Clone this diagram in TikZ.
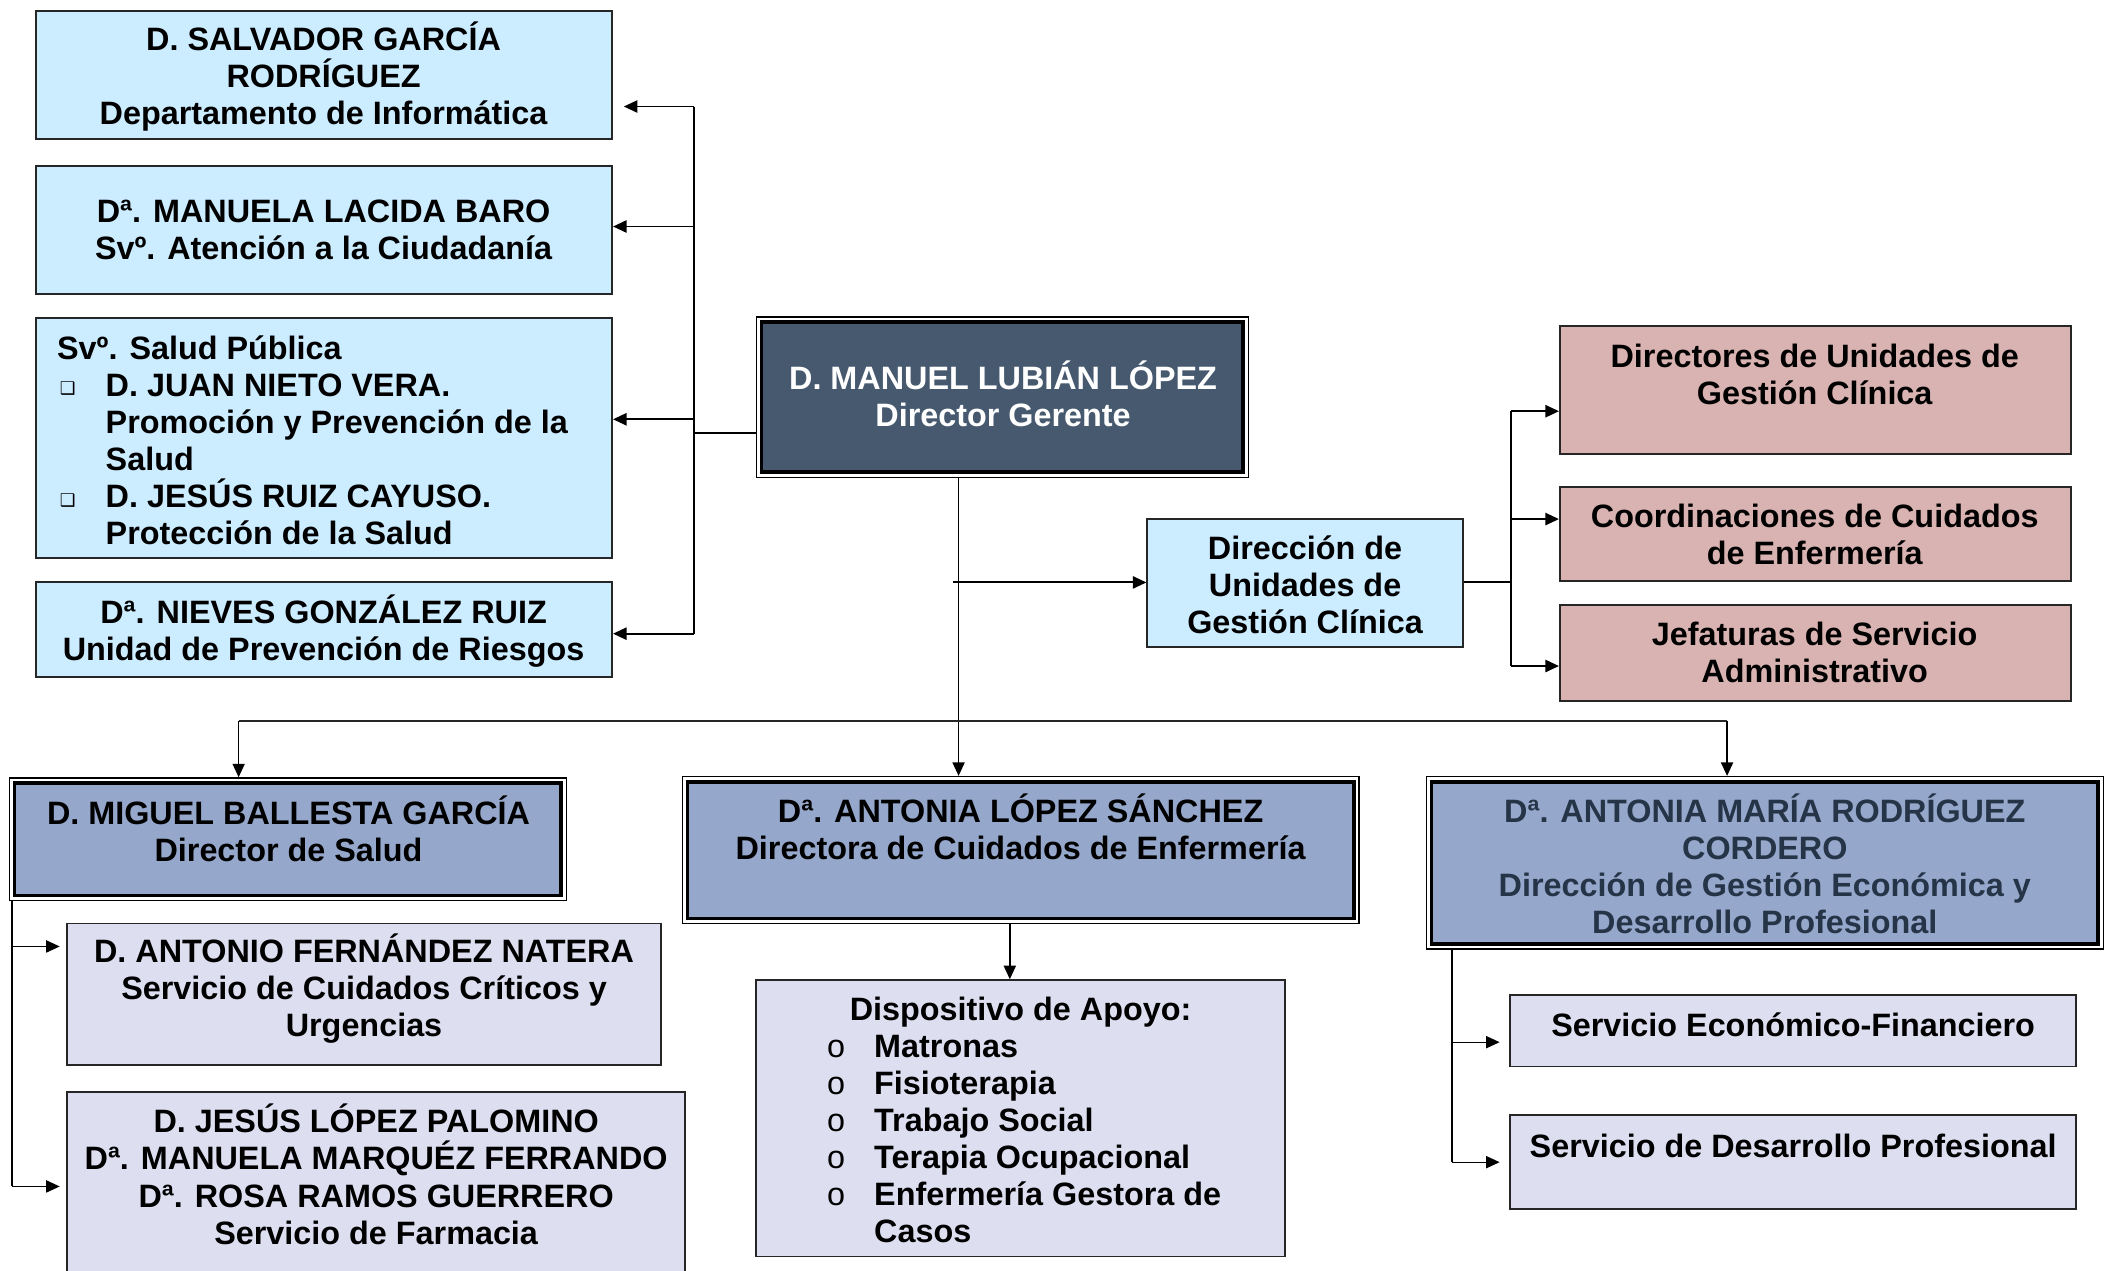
\documentclass[tikz,border=0pt]{standalone}
\usepackage{fontspec}
\setmainfont{Liberation Sans}
\newfontfamily\djv{DejaVu Sans}
\usetikzlibrary{arrows.meta,fit,calc}
\definecolor{lblue}{HTML}{CCECFF}
\definecolor{dslate}{HTML}{46596F}
\definecolor{rose}{HTML}{D9B3B1}
\definecolor{steel}{HTML}{95A7CB}
\definecolor{lav}{HTML}{DDDFF1}
\definecolor{amtext}{HTML}{263447}
\newcommand\sqb{\makebox[18pt][l]{\hspace*{1pt}\raisebox{0.5pt}{\djv\mdseries\fontsize{6.5pt}{6.5pt}\selectfont ❑}}}
\newcommand\indt{\hspace*{18pt}}
\newcommand\cirb{\makebox[17.5pt][l]{\mdseries o}}
\newcommand\indc{\hspace*{17.5pt}}
\newcommand\dblin[2]{\filldraw[fill=#2, draw=black, line width=1.3pt] ([shift={(2.2pt,-2.2pt)}]#1.north west) rectangle ([shift={(-2.2pt,2.2pt)}]#1.south east);}
\begin{document}
\begin{tikzpicture}[x=0.5pt,y=-0.5pt,
  box/.style={draw=black!85, line width=0.7pt, inner sep=0pt},
  obox/.style={draw=black, line width=0.5pt, fill=white, inner sep=0pt},
  txt/.style={font=\bfseries\fontsize{12pt}{13.75pt}\selectfont, align=center, inner sep=0pt},
  ln/.style={line width=0.7pt},
  thinln/.style={line width=0.5pt},
  arr/.style={line width=0.7pt, -{Triangle[length=5pt,width=4.5pt]}},
  thinarr/.style={line width=0.5pt, -{Triangle[length=5pt,width=4.5pt]}}]
\useasboundingbox (0,0) rectangle (1568,942);

% left column
\node[box, fill=lblue, fit={(27,8) (454,103)}] (A) {};
\node[txt] (At) at (240,56.5) {D. SALVADOR GARCÍA\\RODRÍGUEZ\\Departamento de Informática};
\node[box, fill=lblue, fit={(27,123) (454,218)}] (B) {};
\node[txt] (Bt) at (240,170.5) {Dª. MANUELA LACIDA BARO\\Svº. Atención a la Ciudadanía};
\node[box, fill=lblue, fit={(27,236) (454,414)}] (C) {};
\node[txt, align=left, anchor=west] (Ct) at (42,326.5) {Svº. Salud Pública\\
\sqb D. JUAN NIETO VERA.\\
\indt Promoción y Prevención de la\\
\indt Salud\\
\sqb D. JESÚS RUIZ CAYUSO.\\
\indt Protección de la Salud};
\node[box, fill=lblue, fit={(27,432) (454,502)}] (D) {};
\node[txt] (Dt) at (240,468) {Dª. NIEVES GONZÁLEZ RUIZ\\Unidad de Prevención de Riesgos};

% director gerente
\node[obox, fit={(561,235) (926,354)}] (G) {};
\dblin{G}{dslate}
\node[txt, text=white] (Gt) at (744,292) {D. MANUEL LUBIÁN LÓPEZ\\Director Gerente};

% direccion UGC
\node[box, fill=lblue, fit={(851,385) (1085,480)}] (U) {};
\node[txt] (Ut) at (968,433.5) {Dirección de\\Unidades de\\Gestión Clínica};

% pink boxes
\node[box, fill=rose, fit={(1157,242) (1536,337)}] (P1) {};
\node[txt] (P1t) at (1346,277.5) {Directores de Unidades de\\Gestión Clínica};
\node[box, fill=rose, fit={(1157,361) (1536,431)}] (P2) {};
\node[txt] (P2t) at (1346,396.5) {Coordinaciones de Cuidados\\de Enfermería};
\node[box, fill=rose, fit={(1157,449) (1536,520)}] (P3) {};
\node[txt] (P3t) at (1346,484) {Jefaturas de Servicio\\Administrativo};

% second level directors
\node[obox, fit={(7,577) (420,668)}] (M) {};
\dblin{M}{steel}
\node[txt] (Mt) at (214,615) {D. MIGUEL BALLESTA GARCÍA\\Director de Salud};
\node[obox, fit={(506,576) (1008,685)}] (L) {};
\dblin{L}{steel}
\node[txt] (Lt) at (757,613) {Dª. ANTONIA LÓPEZ SÁNCHEZ\\Directora de Cuidados de Enfermería};
\node[obox, fit={(1058,576) (1560,704)}] (R) {};
\dblin{R}{steel}
\node[txt, text=amtext] (Rt) at (1309,640.5) {Dª. ANTONIA MARÍA RODRÍGUEZ\\CORDERO\\Dirección de Gestión Económica y\\Desarrollo Profesional};

% third level
\node[box, fill=lav, fit={(50,685) (490,790)}] (F) {};
\node[txt] (Ft) at (270,733.5) {D. ANTONIO FERNÁNDEZ NATERA\\Servicio de Cuidados Críticos y\\Urgencias};
\node[box, fill=lav, fit={(50,810) (508,952)}] (J) {};
\node[txt] (Jt) at (279,871) {D. JESÚS LÓPEZ PALOMINO\\Dª. MANUELA MARQUÉZ FERRANDO\\Dª. ROSA RAMOS GUERRERO\\Servicio de Farmacia};
\node[box, fill=lav, fit={(561,727) (953,932)}] (S) {};
\node[txt] (St) at (757,750.5) {Dispositivo de Apoyo:};
\node[txt, align=left, anchor=west] (Sl) at (613,845) {\cirb Matronas\\
\cirb Fisioterapia\\
\cirb Trabajo Social\\
\cirb Terapia Ocupacional\\
\cirb Enfermería Gestora de\\
\indc Casos};
\node[box, fill=lav, fit={(1120,738) (1540,791)}] (E) {};
\node[txt] (Et) at (1330,760) {Servicio Económico-Financiero};
\node[box, fill=lav, fit={(1120,827) (1540,897)}] (W) {};
\node[txt] (Wt) at (1330,850) {Servicio de Desarrollo Profesional};

% connectors: left bus
\coordinate (bA) at (515,79);
\coordinate (bB) at (515,168);
\coordinate (bC) at (515,311);
\coordinate (bG) at (515,321);
\coordinate (bD) at (515,470);
\draw[ln] (bA) -- (bD);
\draw[arr, shorten >=4pt] (bA) -- (A.east |- bA);
\draw[arr] (bB) -- (B.east |- bB);
\draw[arr] (bC) -- (C.east |- bC);
\draw[arr] (bD) -- (D.east |- bD);
\draw[ln] (G.west |- bG) -- (bG);

% director down
\coordinate (gv) at (711,535);
\coordinate (gh) at (707,432);
\draw[thinln] (G.south -| gv) -- (gv);
\draw[thinarr] (gv) -- (L.north -| gv);
\draw[arr] (gh) -- (U.west |- gh);

% right bus
\coordinate (rb) at (1121,432);
\coordinate (r1) at (1121,305);
\coordinate (r2) at (1121,385);
\coordinate (r3) at (1121,494);
\draw[ln] (U.east |- rb) -- (rb);
\draw[ln] (r1) -- (r3);
\draw[arr] (r1) -- (P1.west |- r1);
\draw[arr] (r2) -- (P2.west |- r2);
\draw[arr] (r3) -- (P3.west |- r3);

% horizontal distribution line
\coordinate (hl) at (177,535);
\coordinate (hr) at (1281,535);
\draw[ln, draw=black!85] (hl) -- (hr);
\draw[thinarr] (hl) -- (M.north -| hl);
\draw[thinarr] (hr) -- (R.north -| hr);

% Miguel bus
\coordinate (m0) at (9,668);
\coordinate (m1) at (9,702);
\coordinate (m2) at (9,880);
\draw[thinln] (M.south -| m0) -- (m2);
\draw[thinarr, shorten >=2.5pt] (m1) -- (F.west |- m1);
\draw[thinarr, shorten >=2.5pt] (m2) -- (J.west |- m2);

% Antonia Lopez to dispositivo
\coordinate (lv) at (749,700);
\draw[thinarr] (L.south -| lv) -- (S.north -| lv);

% Antonia Maria bus
\coordinate (a0) at (1077,704);
\coordinate (a1) at (1077,773);
\coordinate (a2) at (1077,862);
\draw[thinln] (R.south -| a0) -- (a2);
\draw[thinarr, shorten >=3.5pt] (a1) -- (E.west |- a1);
\draw[thinarr, shorten >=3.5pt] (a2) -- (W.west |- a2);
\end{tikzpicture}
\end{document}
